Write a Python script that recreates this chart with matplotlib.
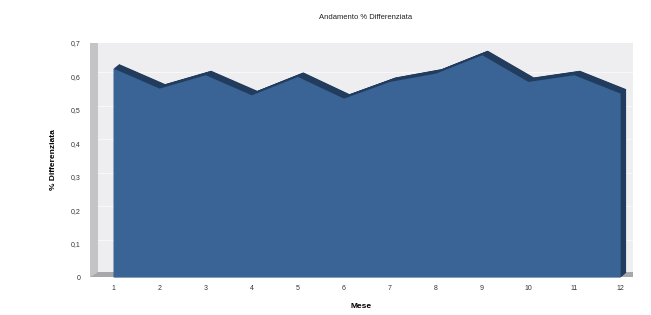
import numpy as np
import matplotlib.pyplot as plt
from matplotlib.transforms import ScaledTranslation

plt.rcParams['font.family'] = ['Liberation Sans', 'DejaVu Sans']

# data
mesi = [1, 2, 3, 4, 5, 6, 7, 8, 9, 10, 11, 12]
differenziata = [0.625, 0.565, 0.605, 0.545, 0.60, 0.535, 0.585, 0.61, 0.665, 0.585, 0.605, 0.55]
y_ticks = [0, 0.1, 0.2, 0.3, 0.4, 0.5, 0.6, 0.7]
y_labels = ['0', '0,1', '0,2', '0,3', '0,4', '0,5', '0,6', '0,7']

fig = plt.figure(figsize=(6.51, 3.15), dpi=100)
ax = fig.add_axes([90 / 651, 38 / 315, 543 / 651, 234 / 315])
ax.set_xlim(0.5, 12.28)
ax.set_ylim(0, 0.7)
ax.patch.set_alpha(0)
for s in ax.spines.values():
    s.set_visible(False)

# 3d depth offset (inches)
dx, dy = 0.07, 0.04
def depth(f):
    return ScaledTranslation(dx * f, dy * f, fig.dpi_scale_trans)

# back wall + grid
ax.add_patch(plt.Rectangle((0, 0), 1, 1, transform=ax.transAxes + depth(1),
                           facecolor='#eeeef0', edgecolor='none', zorder=0))
for t in y_ticks[1:]:
    ax.plot([0, 1], [t, t], color='#f8f8fa', lw=0.8,
            transform=ax.get_yaxis_transform() + depth(1), zorder=0.5)

# left wall and floor, drawn as stacked offset copies
n = 14
for i in range(n + 1):
    f = i / n
    ax.plot([0, 0], [0, 1], transform=ax.transAxes + depth(f), color='#c4c4c6', lw=1.2, zorder=1,
            solid_capstyle='butt')
    ax.plot([0, 1], [0, 0], transform=ax.transAxes + depth(f), color='#a8a8aa', lw=1.2, zorder=1,
            solid_capstyle='butt')

# area extrusion
x = np.array(mesi)
y = np.array(differenziata)
for i in range(n, 0, -1):
    f = i / n
    ax.fill_between(x, 0, y, color='#223c5e', lw=0,
                    transform=ax.transData + ScaledTranslation(0.055 * f, 0.045 * f, fig.dpi_scale_trans),
                    zorder=2)
ax.fill_between(x, 0, y, color='#3a6396', lw=0, zorder=3)

ax.set_xticks(mesi)
ax.set_xticklabels([str(m) for m in mesi])
ax.set_yticks(y_ticks)
ax.set_yticklabels(y_labels)
ax.tick_params(length=0, labelsize=5, colors='#333333')
ax.tick_params(axis='x', pad=6)
ax.tick_params(axis='y', pad=7)

ax.set_xlabel('Mese', fontsize=6, fontweight='bold', labelpad=8)
ax.set_ylabel('% Differenziata', fontsize=6, fontweight='bold', labelpad=10)
fig.text(0.562, 0.945, 'Andamento % Differenziata', ha='center', va='center', fontsize=5.5, color='#222222')

fig.savefig('out.png', dpi=100)
